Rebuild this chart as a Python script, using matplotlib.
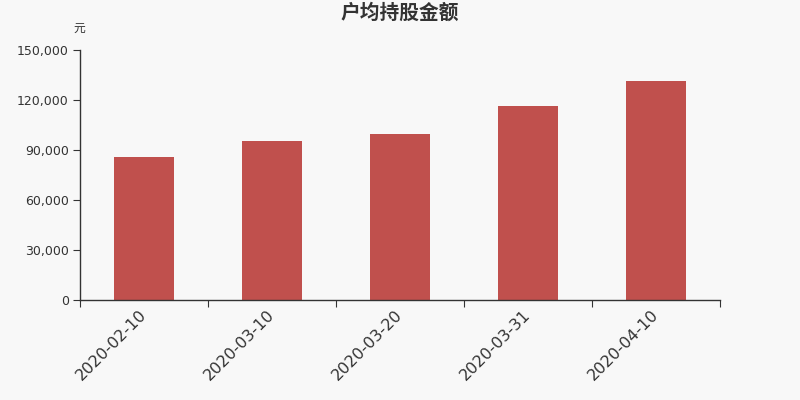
import matplotlib
matplotlib.use("Agg")
import matplotlib.pyplot as plt
import numpy as np
from matplotlib.ticker import FuncFormatter

plt.rcParams['font.family'] = ['DejaVu Sans', 'Noto Sans CJK SC']

categories = ["2020-02-10", "2020-03-10", "2020-03-20", "2020-03-31", "2020-04-10"]
values = [85800, 95400, 99800, 116600, 131600]
yticks = [0, 30000, 60000, 90000, 120000, 150000]

bg = "#f8f8f8"
fig = plt.figure(figsize=(8, 4), dpi=100, facecolor=bg)
ax = fig.add_axes([0.1, 0.25, 0.8, 0.625], facecolor=bg)

x = np.arange(len(categories))
ax.bar(x, values, width=0.47, color="#c0504d", zorder=2)

ax.set_xlim(-0.5, len(categories) - 0.5)
ax.set_ylim(0, 150000)
ax.set_yticks(yticks)
ax.yaxis.set_major_formatter(FuncFormatter(lambda v, p: f"{int(v):,}"))

ax.set_xticks(np.arange(-0.5, len(categories), 1.0))
ax.set_xticklabels([])
ax.set_xticks(x, minor=True)
ax.set_xticklabels(categories, minor=True, rotation=45, ha='right', va='center',
                   rotation_mode='anchor', fontsize=11.5, color="#333333")
ax.tick_params(axis='x', which='minor', length=0, pad=9)
ax.tick_params(axis='x', which='major', length=5, color="#333333", direction='out')
ax.tick_params(axis='y', length=5, color="#333333", labelsize=9, labelcolor="#333333", pad=3)

for s in ['top', 'right']:
    ax.spines[s].set_visible(False)
for s in ['left', 'bottom']:
    ax.spines[s].set_color("#333333")
    ax.spines[s].set_linewidth(1)

fig.text(0.5, 0.967, "户均持股金额", ha='center', va='center', fontsize=14.2,
         fontweight='bold', color="#333333", family=['Noto Sans CJK SC', 'DejaVu Sans'])
fig.text(0.099, 0.93, "元", ha='center', va='center', fontsize=8.5, color="#333333",
         family=['Noto Sans CJK SC', 'DejaVu Sans'])

fig.savefig("out.png", dpi=100, facecolor=bg)
